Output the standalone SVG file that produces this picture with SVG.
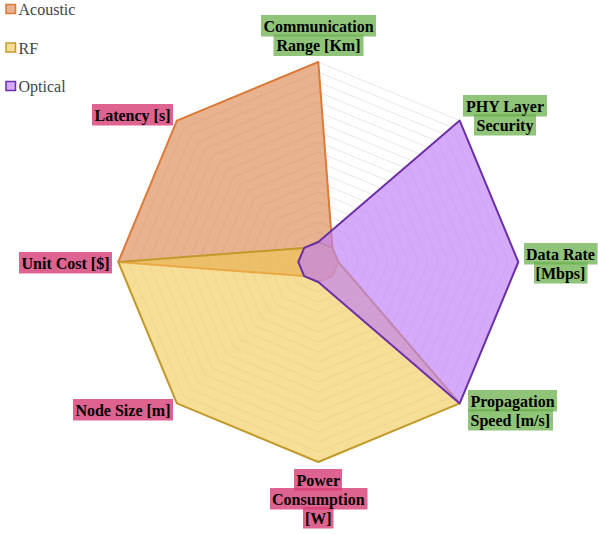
<svg xmlns="http://www.w3.org/2000/svg" width="598" height="534" viewBox="0 0 598 534">
  <style>
    .grid { fill: none; stroke: #dedede; stroke-width: 0.7; }
    .series { stroke-width: 2; stroke-linejoin: round; }
    .acoustic { fill: #d97f45; fill-opacity: 0.6; stroke: #dc7a38; }
    .rf { fill: #f0c850; fill-opacity: 0.6; stroke: #c29a2c; }
    .optical { fill: #bf7cf7; fill-opacity: 0.65; stroke: #6b2fa6; }
    .lbl { font-family: "Liberation Serif", "Times New Roman", serif; font-weight: bold; font-size: 16px; fill: #000; }
    .box-good { fill: #6ab04c; fill-opacity: 0.75; }
    .box-bad { fill: #d63c74; fill-opacity: 0.8; }
    .legend-text { font-family: "Liberation Serif", "Times New Roman", serif; font-size: 16px; fill: #444; }
  </style>

  <!-- concentric octagon grid, centre (318.3, 262), radius 200 -->
  <g id="grid">
    <g transform="translate(318.3 262)">
      <polygon class="grid" points="0,-200 141.42,-141.42 200,0 141.42,141.42 0,200 -141.42,141.42 -200,0 -141.42,-141.42"/>
      <polygon class="grid" points="0,-190 134.35,-134.35 190,0 134.35,134.35 0,190 -134.35,134.35 -190,0 -134.35,-134.35"/>
      <polygon class="grid" points="0,-180 127.28,-127.28 180,0 127.28,127.28 0,180 -127.28,127.28 -180,0 -127.28,-127.28"/>
      <polygon class="grid" points="0,-170 120.21,-120.21 170,0 120.21,120.21 0,170 -120.21,120.21 -170,0 -120.21,-120.21"/>
      <polygon class="grid" points="0,-160 113.14,-113.14 160,0 113.14,113.14 0,160 -113.14,113.14 -160,0 -113.14,-113.14"/>
      <polygon class="grid" points="0,-150 106.07,-106.07 150,0 106.07,106.07 0,150 -106.07,106.07 -150,0 -106.07,-106.07"/>
      <polygon class="grid" points="0,-140 98.99,-98.99 140,0 98.99,98.99 0,140 -98.99,98.99 -140,0 -98.99,-98.99"/>
      <polygon class="grid" points="0,-130 91.92,-91.92 130,0 91.92,91.92 0,130 -91.92,91.92 -130,0 -91.92,-91.92"/>
      <polygon class="grid" points="0,-120 84.85,-84.85 120,0 84.85,84.85 0,120 -84.85,84.85 -120,0 -84.85,-84.85"/>
      <polygon class="grid" points="0,-110 77.78,-77.78 110,0 77.78,77.78 0,110 -77.78,77.78 -110,0 -77.78,-77.78"/>
      <polygon class="grid" points="0,-100 70.71,-70.71 100,0 70.71,70.71 0,100 -70.71,70.71 -100,0 -70.71,-70.71"/>
      <polygon class="grid" points="0,-90 63.64,-63.64 90,0 63.64,63.64 0,90 -63.64,63.64 -90,0 -63.64,-63.64"/>
      <polygon class="grid" points="0,-80 56.57,-56.57 80,0 56.57,56.57 0,80 -56.57,56.57 -80,0 -56.57,-56.57"/>
      <polygon class="grid" points="0,-70 49.50,-49.50 70,0 49.50,49.50 0,70 -49.50,49.50 -70,0 -49.50,-49.50"/>
      <polygon class="grid" points="0,-60 42.43,-42.43 60,0 42.43,42.43 0,60 -42.43,42.43 -60,0 -42.43,-42.43"/>
      <polygon class="grid" points="0,-50 35.36,-35.36 50,0 35.36,35.36 0,50 -35.36,35.36 -50,0 -35.36,-35.36"/>
      <polygon class="grid" points="0,-40 28.28,-28.28 40,0 28.28,28.28 0,40 -28.28,28.28 -40,0 -28.28,-28.28"/>
      <polygon class="grid" points="0,-30 21.21,-21.21 30,0 21.21,21.21 0,30 -21.21,21.21 -30,0 -21.21,-21.21"/>
      <polygon class="grid" points="0,-20 14.14,-14.14 20,0 14.14,14.14 0,20 -14.14,14.14 -20,0 -14.14,-14.14"/>
      <polygon class="grid" points="0,-10 7.07,-7.07 10,0 7.07,7.07 0,10 -7.07,7.07 -10,0 -7.07,-7.07"/>
    </g>
  </g>

  <!-- data series -->
  <g id="series">
    <polygon id="acoustic" class="series acoustic" points="318.3,62 332.4,247.9 338.3,262 332.4,276.1 318.3,282 304.2,276.1 118.3,262 176.9,120.6"/>
    <polygon id="rf" class="series rf" points="318.3,242 332.4,247.9 338.3,262 459.7,403.4 318.3,462 176.9,403.4 118.3,262 304.2,247.9"/>
    <polygon id="optical" class="series optical" points="318.3,242 459.7,120.6 518.3,262 459.7,403.4 318.3,282 304.2,276.1 298.3,262 304.2,247.9"/>
  </g>

  <!-- axis labels -->
  <g id="label-comm-range">
    <rect class="box-good" x="261" y="15" width="115" height="21.5"/>
    <rect class="box-good" x="273.5" y="34.5" width="90" height="21.5"/>
    <text class="lbl" x="318.5" y="31.5" text-anchor="middle">Communication</text>
    <text class="lbl" x="318.5" y="51" text-anchor="middle">Range [Km]</text>
  </g>
  <g id="label-phy-security">
    <rect class="box-good" x="463" y="95" width="84" height="21.5"/>
    <rect class="box-good" x="474" y="114" width="62" height="21.5"/>
    <text class="lbl" x="505" y="111.5" text-anchor="middle">PHY Layer</text>
    <text class="lbl" x="505" y="130.5" text-anchor="middle">Security</text>
  </g>
  <g id="label-data-rate">
    <rect class="box-good" x="524" y="243" width="73.5" height="21.5"/>
    <rect class="box-good" x="534" y="262" width="53.5" height="21.5"/>
    <text class="lbl" x="560.5" y="259.5" text-anchor="middle">Data Rate</text>
    <text class="lbl" x="560.5" y="278.5" text-anchor="middle">[Mbps]</text>
  </g>
  <g id="label-propagation">
    <rect class="box-good" x="468" y="390" width="89" height="21.5"/>
    <rect class="box-good" x="468" y="409" width="85" height="21.5"/>
    <text class="lbl" x="470.5" y="406.5">Propagation</text>
    <text class="lbl" x="470.5" y="425.5">Speed [m/s]</text>
  </g>
  <g id="label-power">
    <rect class="box-bad" x="294" y="469" width="48" height="21.5"/>
    <rect class="box-bad" x="270" y="488" width="97.5" height="21.5"/>
    <rect class="box-bad" x="303" y="507" width="30.5" height="21.5"/>
    <text class="lbl" x="318.3" y="485.5" text-anchor="middle">Power</text>
    <text class="lbl" x="318.3" y="504.5" text-anchor="middle">Consumption</text>
    <text class="lbl" x="318.3" y="523.5" text-anchor="middle">[W]</text>
  </g>
  <g id="label-node-size">
    <rect class="box-bad" x="73" y="399" width="100" height="21.5"/>
    <text class="lbl" x="170.5" y="415.5" text-anchor="end">Node Size [m]</text>
  </g>
  <g id="label-unit-cost">
    <rect class="box-bad" x="19" y="252" width="93" height="21.5"/>
    <text class="lbl" x="109.5" y="268.5" text-anchor="end">Unit Cost [$]</text>
  </g>
  <g id="label-latency">
    <rect class="box-bad" x="92" y="104" width="81" height="21.5"/>
    <text class="lbl" x="170.5" y="120.5" text-anchor="end">Latency [s]</text>
  </g>

  <!-- legend -->
  <g id="legend">
    <rect x="6" y="4.5" width="9.5" height="9" fill="#e8b28f" stroke="#dc7a38" stroke-width="1.5"/>
    <text class="legend-text" x="18.5" y="15">Acoustic</text>
    <rect x="6" y="43" width="9.5" height="9" fill="#f6de96" stroke="#c29a2c" stroke-width="1.5"/>
    <text class="legend-text" x="18.5" y="53.5">RF</text>
    <rect x="6" y="81.5" width="9.5" height="9" fill="#d5aafa" stroke="#6b2fa6" stroke-width="1.5"/>
    <text class="legend-text" x="18.5" y="92">Optical</text>
  </g>
</svg>
